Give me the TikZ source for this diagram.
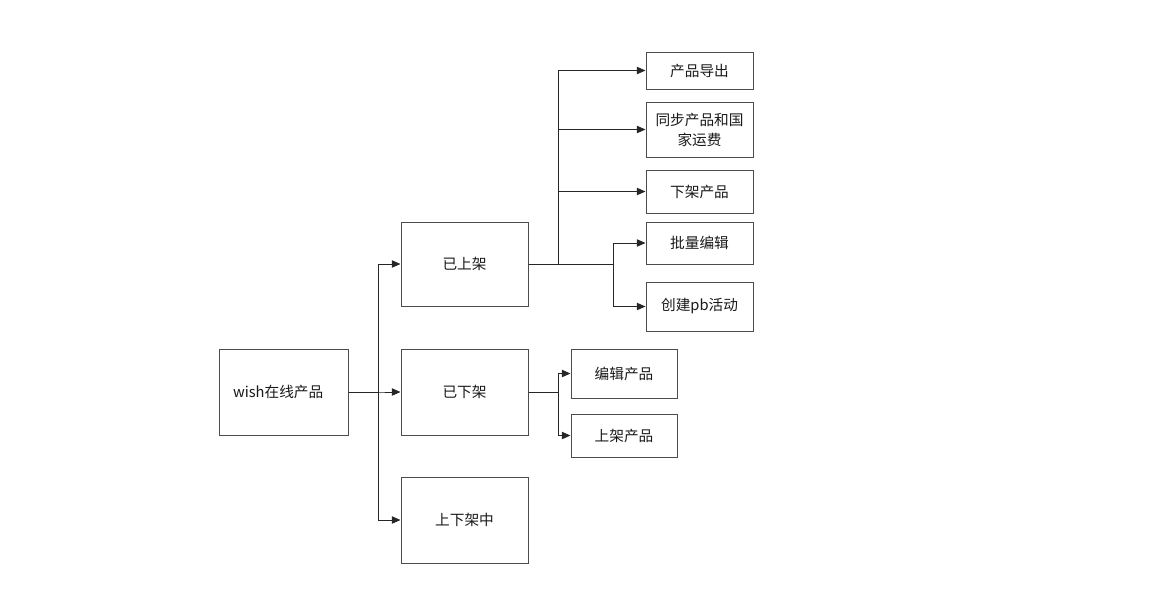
\documentclass[tikz,border=0pt]{standalone}
\usepackage{fontspec}
\setmainfont{Noto Sans CJK SC}
\usetikzlibrary{arrows.meta}
\begin{document}
\begin{tikzpicture}[x=0.75pt,y=-0.75pt,
  box/.style={draw=black!70,line width=0.75pt,inner sep=0pt,align=center,font=\fontsize{11pt}{15pt}\selectfont,text=black!90},
  conn/.style={draw=black!85,line width=0.75pt,-{Triangle[length=6.5pt,width=5.5pt]}}]
\useasboundingbox (0,0) rectangle (1159,604);
\node[box,minimum width=96.75pt,minimum height=64.5pt] (wish) at (283.5,392) {wish在线产品\hspace*{8pt}};
\node[box,minimum width=95.25pt,minimum height=63pt] (up) at (464.5,264) {已上架};
\node[box,minimum width=95.25pt,minimum height=64.5pt] (down) at (464.5,392) {已下架};
\node[box,minimum width=95.25pt,minimum height=64.5pt] (mid) at (464.5,520) {上下架中};
\node[box,minimum width=80.25pt,minimum height=27.75pt] (exp) at (699.5,70.5) {产品导出};
\node[box,minimum width=80.25pt,minimum height=41.25pt] (sync) at (699.5,129.5) {同步产品和国\\家运费};
\node[box,minimum width=80.25pt,minimum height=32.25pt] (off) at (699.5,191.5) {下架产品};
\node[box,minimum width=80.25pt,minimum height=31.5pt] (batch) at (699.5,243) {批量编辑};
\node[box,minimum width=80.25pt,minimum height=36.75pt] (pb) at (699.5,306.5) {创建pb活动};
\node[box,minimum width=79.5pt,minimum height=36.75pt] (edit) at (624,373.5) {编辑产品};
\node[box,minimum width=79.5pt,minimum height=32.25pt] (on) at (624,435.5) {上架产品};
\coordinate (j1) at (378,392);
\coordinate (j2) at (558,264);
\coordinate (j3) at (613,264);
\coordinate (j4) at (558,392);
\draw[conn] (wish.east) -- (j1) |- (up.west);
\draw[conn] (wish.east) -- (j1) -- (down.west);
\draw[conn] (wish.east) -- (j1) |- (mid.west);
\draw[conn] (up.east) -- (j2) |- (exp.west);
\draw[conn] (up.east) -- (j2) |- (sync.west);
\draw[conn] (up.east) -- (j2) |- (off.west);
\draw[conn] (up.east) -- (j3) |- (batch.west);
\draw[conn] (up.east) -- (j3) |- (pb.west);
\draw[conn] (down.east) -- (j4) |- (edit.west);
\draw[conn] (down.east) -- (j4) |- (on.west);
\end{tikzpicture}
\end{document}
